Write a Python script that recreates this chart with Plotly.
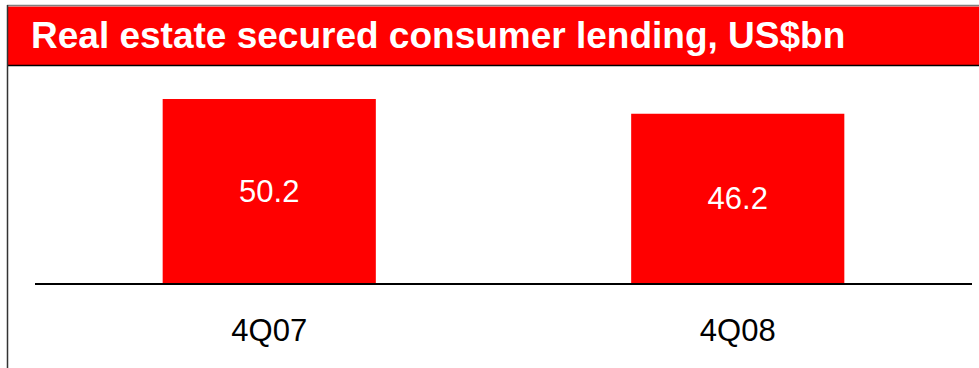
import plotly.graph_objects as go

categories = ["4Q07", "4Q08"]
values = [50.2, 46.2]
value_labels = ["50.2", "46.2"]
title_text = "Real estate secured consumer lending, US$bn"

W, H = 979, 368
ML, MR, MT, MB = 35, 7, 70, 85
PW = W - ML - MR
PH = H - MT - MB

def px(x):
    return (x - ML) / PW

def py(y):
    return (H - MB - y) / PH

fig = go.Figure(go.Bar(
    x=categories, y=values, text=value_labels,
    textposition="inside", insidetextanchor="middle",
    textfont=dict(family="Liberation Sans, Arial", size=31, color="white"),
    marker=dict(color="#FF0000", line=dict(width=0)),
    hoverinfo="skip",
))

shapes = [
    # header band
    dict(type="rect", xref="paper", yref="paper", x0=px(8), x1=px(979), y0=py(65.5), y1=py(6.5),
         fillcolor="#FF0000", line=dict(width=0), layer="below"),
    # top border
    dict(type="line", xref="paper", yref="paper", x0=px(7), x1=px(979), y0=py(5.5), y1=py(5.5),
         line=dict(color="#808080", width=1.5)),
    # line under header
    dict(type="line", xref="paper", yref="paper", x0=px(8), x1=px(979), y0=py(65.5), y1=py(65.5),
         line=dict(color="#000000", width=1.5)),
    # left border
    dict(type="line", xref="paper", yref="paper", x0=px(7.5), x1=px(7.5), y0=py(5), y1=py(368),
         line=dict(color="#333333", width=1.5)),
]

fig.update_layout(
    width=W, height=H,
    margin=dict(l=ML, r=MR, t=MT, b=MB, pad=0),
    paper_bgcolor="white", plot_bgcolor="white",
    showlegend=False,
    bargap=0.545,
    shapes=shapes,
    annotations=[dict(
        text="<b>" + title_text + "</b>", xref="paper", yref="paper",
        x=px(29), y=py(36), xanchor="left", yanchor="middle", showarrow=False,
        font=dict(family="Liberation Sans, Arial", size=37, color="white"),
    )],
    xaxis=dict(
        type="category", range=[-0.5, 1.5], showgrid=False, zeroline=False,
        showline=True, linecolor="black", linewidth=2, ticks="",
        ticklabelstandoff=19,
        tickfont=dict(family="Liberation Sans, Arial", size=31, color="black"),
        fixedrange=True,
    ),
    yaxis=dict(range=[0, PH / 3.665], visible=False, fixedrange=True),
)

fig.write_html("out.html", config={"displayModeBar": False})
